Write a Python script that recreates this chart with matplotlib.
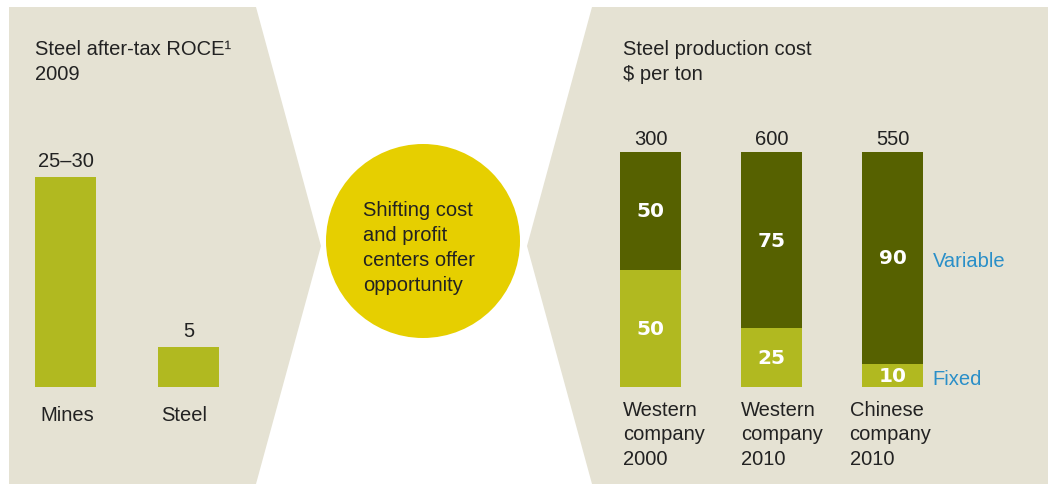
import matplotlib.pyplot as plt
from matplotlib.patches import Polygon, Circle

plt.rcParams["font.family"] = ["Liberation Sans", "DejaVu Sans"]

# left chart: steel after-tax ROCE 2009
roce_cats = ["Mines", "Steel"]
roce_vals = [26.25, 5]
roce_labels = ["25–30", "5"]

# right chart: steel production cost, % split
cost_cats = ["Western\ncompany\n2000", "Western\ncompany\n2010", "Chinese\ncompany\n2010"]
cost_totals = ["300", "600", "550"]
fixed_share = [50, 25, 10]
variable_share = [50, 75, 90]

BEIGE = "#e5e2d3"
LIGHT = "#b1b920"
DARK = "#566100"
YELLOW = "#e6cf00"
BLUE = "#2a8fc8"
TXT = "#222222"
FS = 14.5
LS = 1.38

W, H = 1048, 485
fig = plt.figure(figsize=(W / 100, H / 100), dpi=100)


def px_axes(x0, y0, x1, y1):
    # axes placed by pixel box (top-left origin)
    return fig.add_axes([x0 / W, 1 - y1 / H, (x1 - x0) / W, (y1 - y0) / H])


# background layer in pixel coords
bg = fig.add_axes([0, 0, 1, 1])
bg.set_xlim(0, W)
bg.set_ylim(H, 0)
bg.axis("off")
bg.add_patch(Polygon([(9, 8), (256, 8), (321, 247), (256, 485), (9, 485)],
                     closed=True, fc=BEIGE, ec="none"))
bg.add_patch(Polygon([(592, 8), (1048, 8), (1048, 485), (592, 485), (527, 247)],
                     closed=True, fc=BEIGE, ec="none"))
bg.add_patch(Circle((423, 242), 97, fc=YELLOW, ec="none"))
bg.text(363, 248, "Shifting cost\nand profit\ncenters offer\nopportunity",
        fontsize=FS, color=TXT, va="center", ha="left", linespacing=LS)
bg.text(35, 40, "Steel after-tax ROCE¹\n2009", fontsize=FS, color=TXT,
        va="top", ha="left", linespacing=LS)
bg.text(623, 40, "Steel production cost\n$ per ton", fontsize=FS, color=TXT,
        va="top", ha="left", linespacing=LS)

# left bars
axl = px_axes(20, 148, 240, 388)
xl = range(len(roce_cats))
axl.bar(xl, roce_vals, width=0.496, color=LIGHT)
axl.set_xlim(-0.37, 1.419)
axl.set_ylim(0, 30)
axl.axis("off")
for i, (v, lab) in enumerate(zip(roce_vals, roce_labels)):
    axl.annotate(lab, (i, v), xytext=(0, 5), textcoords="offset points",
                 ha="center", va="bottom", fontsize=FS, color=TXT)
for i, (cat, dx) in enumerate(zip(roce_cats, [4, 2])):
    axl.annotate(cat, (i - 0.248, 0), xytext=(dx, -13), textcoords="offset points",
                 ha="left", va="top", fontsize=FS, color=TXT, annotation_clip=False)

# right stacked bars
axr = px_axes(600, 153, 1000, 388)
xr = range(len(cost_cats))
axr.bar(xr, fixed_share, width=0.504, color=LIGHT)
axr.bar(xr, variable_share, bottom=fixed_share, width=0.504, color=DARK)
axr.set_xlim(-0.417, 2.888)
axr.set_ylim(0, 100)
axr.axis("off")
for i in xr:
    f, v = fixed_share[i], variable_share[i]
    for val, mid in ((f, f / 2), (v, f + v / 2)):
        axr.text(i, mid, str(val), ha="center", va="center", fontsize=FS,
                 fontweight="bold", color="white", family="DejaVu Sans")
    axr.annotate(cost_totals[i], (i, 100), xytext=(0, 3), textcoords="offset points",
                 ha="center", va="bottom", fontsize=FS, color=TXT, annotation_clip=False)
for i, (cat, dx) in enumerate(zip(cost_cats, [2, 0, -9])):
    axr.annotate(cat, (i - 0.252, 0), xytext=(dx, -9), textcoords="offset points",
                 ha="left", va="top", fontsize=FS, color=TXT, linespacing=LS,
                 annotation_clip=False)
last = len(cost_cats) - 1
axr.annotate("Variable", (last + 0.252, fixed_share[last] + variable_share[last] / 2),
             xytext=(7, -2), textcoords="offset points", ha="left", va="center",
             fontsize=FS, color=BLUE, annotation_clip=False)
axr.annotate("Fixed", (last + 0.252, fixed_share[last] / 2),
             xytext=(7, -2), textcoords="offset points", ha="left", va="center",
             fontsize=FS, color=BLUE, annotation_clip=False)

fig.savefig("out.png", dpi=100)
